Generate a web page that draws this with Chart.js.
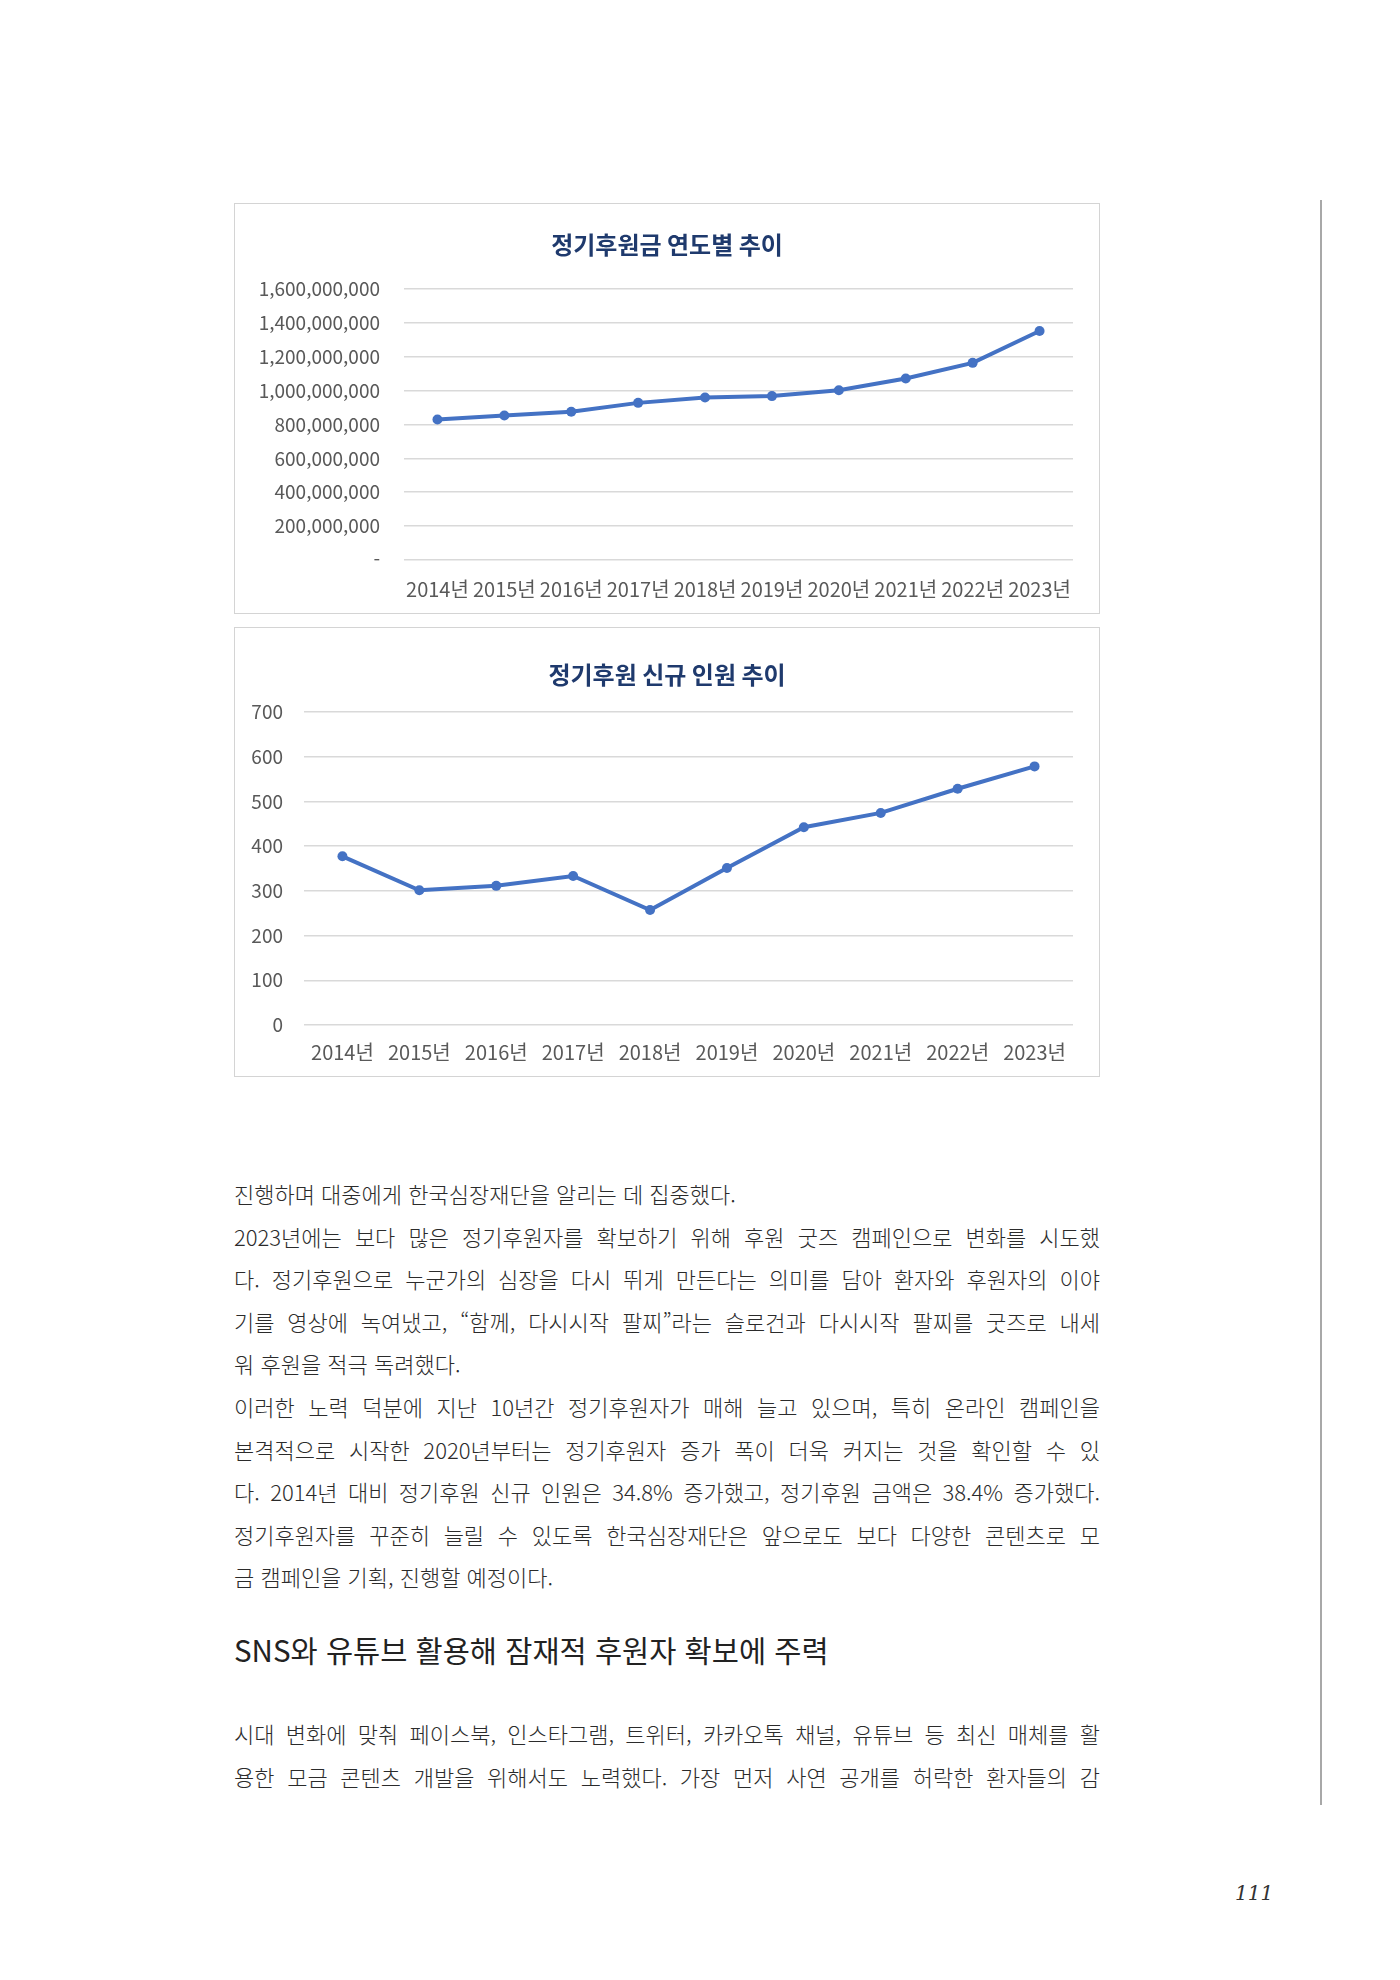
<!DOCTYPE html>
<html lang="ko">
<head>
<meta charset="UTF-8" />
<title>정기후원 추이</title>
<style>
  body {
    margin: 0;
    width: 1400px;
    height: 1980px;
    position: relative;
    background: #fff;
    font-family: 'Noto Sans CJK KR', sans-serif;
    color: #333;
  }
  .chart-box {
    position: absolute;
    left: 234px;
    width: 864px;
    border: 1px solid #d4d4d4;
    background: #fff;
  }
  #box1 { top: 203px; height: 409px; }
  #box2 { top: 627px; height: 448px; }
  .body-text {
    position: absolute;
    left: 234px;
    width: 866px;
    font-size: 22px;
    font-weight: 300;
    line-height: 42.6px;
    color: #2b2b2b;
  }
  .body-text div { white-space: nowrap; }
  .body-text .j { text-align: justify; text-align-last: justify; }
  #para1 { top: 1172px; }
  #para2 { top: 1712px; }
  h2 {
    position: absolute;
    left: 234px;
    top: 1628px;
    margin: 0;
    font-size: 29.5px;
    font-weight: 400;
    line-height: 42px;
    color: #222;
  }
  .side-rule {
    position: absolute;
    left: 1320px;
    top: 200px;
    width: 2px;
    height: 1605px;
    background: #a8a8a8;
  }
  .page-no {
    position: absolute;
    left: 1235px;
    top: 1881px;
    font-family: 'DejaVu Serif', serif;
    font-style: italic;
    font-size: 20px;
    color: #333;
  }
</style>
</head>
<body>
  <div class="chart-box" id="box1"><canvas id="amountChart"></canvas></div>
  <div class="chart-box" id="box2"><canvas id="donorChart"></canvas></div>

  <div class="body-text" id="para1">
    <div>진행하며 대중에게 한국심장재단을 알리는 데 집중했다.</div>
    <div class="j">2023년에는 보다 많은 정기후원자를 확보하기 위해 후원 굿즈 캠페인으로 변화를 시도했</div>
    <div class="j">다. 정기후원으로 누군가의 심장을 다시 뛰게 만든다는 의미를 담아 환자와 후원자의 이야</div>
    <div class="j">기를 영상에 녹여냈고, “함께, 다시시작 팔찌”라는 슬로건과 다시시작 팔찌를 굿즈로 내세</div>
    <div>워 후원을 적극 독려했다.</div>
    <div class="j">이러한 노력 덕분에 지난 10년간 정기후원자가 매해 늘고 있으며, 특히 온라인 캠페인을</div>
    <div class="j">본격적으로 시작한 2020년부터는 정기후원자 증가 폭이 더욱 커지는 것을 확인할 수 있</div>
    <div class="j">다. 2014년 대비 정기후원 신규 인원은 34.8% 증가했고, 정기후원 금액은 38.4% 증가했다.</div>
    <div class="j">정기후원자를 꾸준히 늘릴 수 있도록 한국심장재단은 앞으로도 보다 다양한 콘텐츠로 모</div>
    <div>금 캠페인을 기획, 진행할 예정이다.</div>
  </div>

  <h2>SNS와 유튜브 활용해 잠재적 후원자 확보에 주력</h2>

  <div class="body-text" id="para2">
    <div class="j">시대 변화에 맞춰 페이스북, 인스타그램, 트위터, 카카오톡 채널, 유튜브 등 최신 매체를 활</div>
    <div class="j">용한 모금 콘텐츠 개발을 위해서도 노력했다. 가장 먼저 사연 공개를 허락한 환자들의 감</div>
  </div>

  <div class="side-rule"></div>
  <div class="page-no">111</div>

  <script src="https://cdn.jsdelivr.net/npm/chart.js"></script>
  <script>
    // data
    const years = ['2014년', '2015년', '2016년', '2017년', '2018년', '2019년', '2020년', '2021년', '2022년', '2023년'];
    const amountValues = [829000000, 853000000, 875000000, 927000000, 959000000, 967000000, 1002000000, 1071000000, 1163000000, 1351000000];
    const amountAxis = [0, 1600000000, 200000000]; // min, max, step
    const donorValues = [377, 301, 311, 333, 257, 351, 442, 474, 528, 578];
    const donorAxis = [0, 700, 100];

    const titles = ['정기후원금 연도별 추이', '정기후원 신규 인원 추이'];

    Chart.defaults.font.family = "'Noto Sans CJK KR', 'Noto Sans', sans-serif";

    const lineBlue = '#4472c4';
    const gridGray = '#d9d9d9';
    const tickGray = '#595959';

    function makeChart(id, title, values, axis, opts) {
      return new Chart(document.getElementById(id), {
        type: 'line',
        data: {
          labels: years,
          datasets: [{
            data: values,
            borderColor: lineBlue,
            backgroundColor: lineBlue,
            borderWidth: 4,
            pointRadius: 5,
            pointHoverRadius: 5,
            pointBackgroundColor: lineBlue,
            pointBorderWidth: 0,
            tension: 0,
            fill: false
          }]
        },
        options: {
          responsive: true,
          maintainAspectRatio: false,
          animation: false,
          layout: { padding: 0 },
          plugins: {
            legend: { display: false },
            tooltip: { enabled: false },
            title: {
              display: true,
              text: title,
              color: '#1f3a6d',
              font: { size: 24, weight: 'bold' },
              padding: opts.titlePad
            }
          },
          scales: {
            x: {
              offset: true,
              grid: { display: false, drawTicks: false },
              border: { display: false },
              ticks: {
                color: tickGray,
                font: { size: opts.xFont },
                padding: opts.xPad,
                autoSkip: false,
                maxRotation: 0
              },
              afterFit: s => { s.height = opts.xHeight; }
            },
            y: {
              min: axis[0],
              max: axis[1],
              grid: { color: gridGray, lineWidth: 1.5, drawTicks: false },
              border: { display: false },
              ticks: {
                stepSize: axis[2],
                color: tickGray,
                font: { size: opts.yFont },
                padding: opts.yPad,
                callback: opts.fmt
              },
              afterFit: s => { s.width = opts.yWidth; }
            },
            // empty axis on the right only reserves the gap before the box edge
            gap: {
              position: 'right',
              grid: { display: false, drawTicks: false },
              border: { display: false },
              ticks: { display: false },
              afterFit: s => { s.width = 26; }
            }
          }
        }
      });
    }

    makeChart('amountChart', titles[0], amountValues, amountAxis, {
      titlePad: { top: 26, bottom: 30 },
      xFont: 20, xPad: 17, xHeight: 53,
      yFont: 19, yPad: 24, yWidth: 169,
      fmt: v => v === 0 ? '-' : v.toLocaleString('en-US')
    });

    makeChart('donorChart', titles[1], donorValues, donorAxis, {
      titlePad: { top: 32, bottom: 23 },
      xFont: 20, xPad: 15, xHeight: 51,
      yFont: 19, yPad: 21, yWidth: 69,
      fmt: v => v
    });
  </script>
</body>
</html>
